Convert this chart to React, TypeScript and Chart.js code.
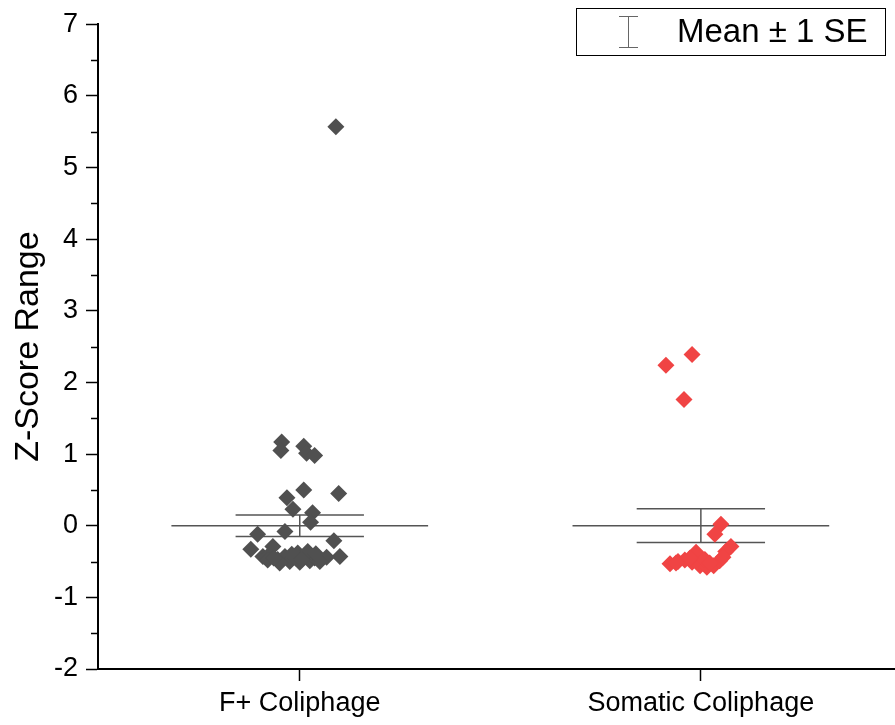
import React, { useEffect, useRef } from "react";
import { Chart, registerables } from "chart.js";

Chart.register(...registerables);

// ---- Data ----
const categories = ["F+ Coliphage", "Somatic Coliphage"];

// jittered category positions (category 1) and z-scores for F+ coliphage
const fPlusX = [
  1.09, 0.955, 0.953, 1.01, 1.017, 1.037, 1.01, 1.097, 0.968, 0.983, 1.032, 1.027,
  0.895, 0.963, 1.085, 0.878, 0.933, 0.908, 1.1, 1.067, 0.925, 0.945, 0.963, 0.975,
  0.99, 1.0, 1.012, 1.025, 1.037, 1.05, 0.95, 0.92, 0.995, 1.02, 0.98, 1.04, 1.005, 0.935,
];
const fPlusZ = [
  5.57, 1.17, 1.05, 1.11, 1.01, 0.98, 0.5, 0.45, 0.39, 0.23, 0.18, 0.05,
  -0.12, -0.08, -0.21, -0.33, -0.29, -0.43, -0.43, -0.44, -0.4, -0.47, -0.43, -0.5,
  -0.45, -0.51, -0.42, -0.49, -0.45, -0.5, -0.52, -0.48, -0.38, -0.36, -0.4, -0.39, -0.47, -0.45,
];

// jittered category positions (category 2) and z-scores for somatic coliphage
const somaticX = [
  1.913, 1.978, 1.958, 2.05, 2.035, 2.075, 2.062, 1.988, 1.923, 1.943, 1.96,
  1.978, 1.998, 2.015, 2.032, 2.047, 2.01, 2.055, 1.973, 2.022, 1.938,
];
const somaticZ = [
  2.24, 2.39, 1.76, 0.02, -0.12, -0.29, -0.36, -0.37, -0.53, -0.5, -0.48,
  -0.51, -0.56, -0.58, -0.56, -0.49, -0.47, -0.44, -0.45, -0.52, -0.52,
];

const means = [0, 0];
const standardErrors = [0.15, 0.235];

const yMin = -2;
const yMax = 7;
const legendLabel = "Mean ± 1 SE";

const FONT = "'Liberation Sans', Arial, sans-serif";
const MEAN_HALF = 0.32;
const CAP_HALF = 0.16;
const BAR_COLOR = "#555555";

function seg(x1: number, y1: number, x2: number, y2: number) {
  return {
    type: "line" as const,
    data: [
      { x: x1, y: y1 },
      { x: x2, y: y2 },
    ],
    borderColor: BAR_COLOR,
    borderWidth: 1.5,
    pointRadius: 0,
    showLine: true,
    fill: false,
    order: 2,
  };
}

export default function App() {
  const ref = useRef<HTMLCanvasElement | null>(null);

  useEffect(() => {
    if (!ref.current) return;

    const errorSets: any[] = [];
    means.forEach((m, i) => {
      const c = i + 1;
      const se = standardErrors[i];
      errorSets.push(seg(c - MEAN_HALF, m, c + MEAN_HALF, m));
      errorSets.push(seg(c - CAP_HALF, m + se, c + CAP_HALF, m + se));
      errorSets.push(seg(c - CAP_HALF, m - se, c + CAP_HALF, m - se));
      errorSets.push(seg(c, m - se, c, m + se));
    });

    const minorTicks = {
      id: "minorTicks",
      afterDraw(chart: any) {
        const { ctx, scales, chartArea } = chart;
        const y = scales.y;
        ctx.save();
        ctx.strokeStyle = "#000";
        ctx.lineWidth = 1.5;
        for (let v = yMin + 0.5; v < yMax; v += 1) {
          const py = Math.round(y.getPixelForValue(v)) + 0.5;
          ctx.beginPath();
          ctx.moveTo(chartArea.left - 7, py);
          ctx.lineTo(chartArea.left, py);
          ctx.stroke();
        }
        // legend box
        const bx = 576.5, by = 8.5, bw = 309, bh = 47;
        ctx.lineWidth = 1;
        ctx.strokeStyle = "#000";
        ctx.strokeRect(bx, by, bw, bh);
        ctx.strokeStyle = "#666";
        ctx.beginPath();
        ctx.moveTo(628.5, 16);
        ctx.lineTo(628.5, 48);
        ctx.moveTo(619, 16.5);
        ctx.lineTo(638, 16.5);
        ctx.moveTo(619, 47.5);
        ctx.lineTo(638, 47.5);
        ctx.stroke();
        ctx.fillStyle = "#000";
        ctx.font = `33px ${FONT}`;
        ctx.textBaseline = "middle";
        ctx.textAlign = "left";
        ctx.fillText(legendLabel, 677, 33);
        ctx.restore();
      },
    };

    const chart = new Chart(ref.current, {
      type: "scatter",
      data: {
        datasets: [
          {
            label: categories[0],
            data: fPlusX.map((x, i) => ({ x, y: fPlusZ[i] })),
            backgroundColor: "#505050",
            borderColor: "#505050",
            borderWidth: 0,
            pointStyle: "rectRot",
            pointRadius: 8.5,
            order: 1,
          },
          {
            label: categories[1],
            data: somaticX.map((x, i) => ({ x, y: somaticZ[i] })),
            backgroundColor: "#f04444",
            borderColor: "#f04444",
            borderWidth: 0,
            pointStyle: "rectRot",
            pointRadius: 8.5,
            order: 1,
          },
          ...errorSets,
        ],
      },
      options: {
        animation: false,
        responsive: false,
        devicePixelRatio: 1,
        layout: { autoPadding: false, padding: { top: 21, left: 0, right: 0, bottom: 0 } },
        plugins: {
          legend: { display: false },
          tooltip: { enabled: false },
        },
        scales: {
          x: {
            type: "linear",
            min: 0.497,
            max: 2.484,
            afterBuildTicks: (scale: any) => {
              scale.ticks = categories.map((_, i) => ({ value: i + 1 }));
            },
            afterFit: (scale: any) => {
              scale.height = 56;
            },
            ticks: {
              autoSkip: false,
              maxRotation: 0,
              padding: 6,
              color: "#000",
              font: { family: FONT, size: 27 },
              callback: (v: any) => categories[Math.round(Number(v)) - 1] ?? "",
            },
            grid: {
              drawOnChartArea: false,
              tickLength: 12,
              tickWidth: 1.5,
              tickColor: "#000",
            },
            border: { display: true, color: "#000", width: 2 },
          },
          y: {
            type: "linear",
            min: yMin,
            max: yMax,
            afterFit: (scale: any) => {
              scale.width = 98;
            },
            ticks: {
              stepSize: 1,
              padding: 8,
              color: "#000",
              font: { family: FONT, size: 27 },
            },
            grid: {
              drawOnChartArea: false,
              tickLength: 12,
              tickWidth: 1.5,
              tickColor: "#000",
            },
            border: { display: true, color: "#000", width: 2 },
            title: {
              display: true,
              text: "Z-Score Range",
              color: "#000",
              font: { family: FONT, size: 34 },
              padding: { top: 8, bottom: 0 },
            },
          },
        },
      },
      plugins: [minorTicks],
    });

    return () => chart.destroy();
  }, []);

  return (
    <div style={{ position: "absolute", left: 0, top: 0, width: 895, height: 725, background: "#fff" }}>
      <canvas ref={ref} width={895} height={725} style={{ display: "block" }} />
    </div>
  );
}
